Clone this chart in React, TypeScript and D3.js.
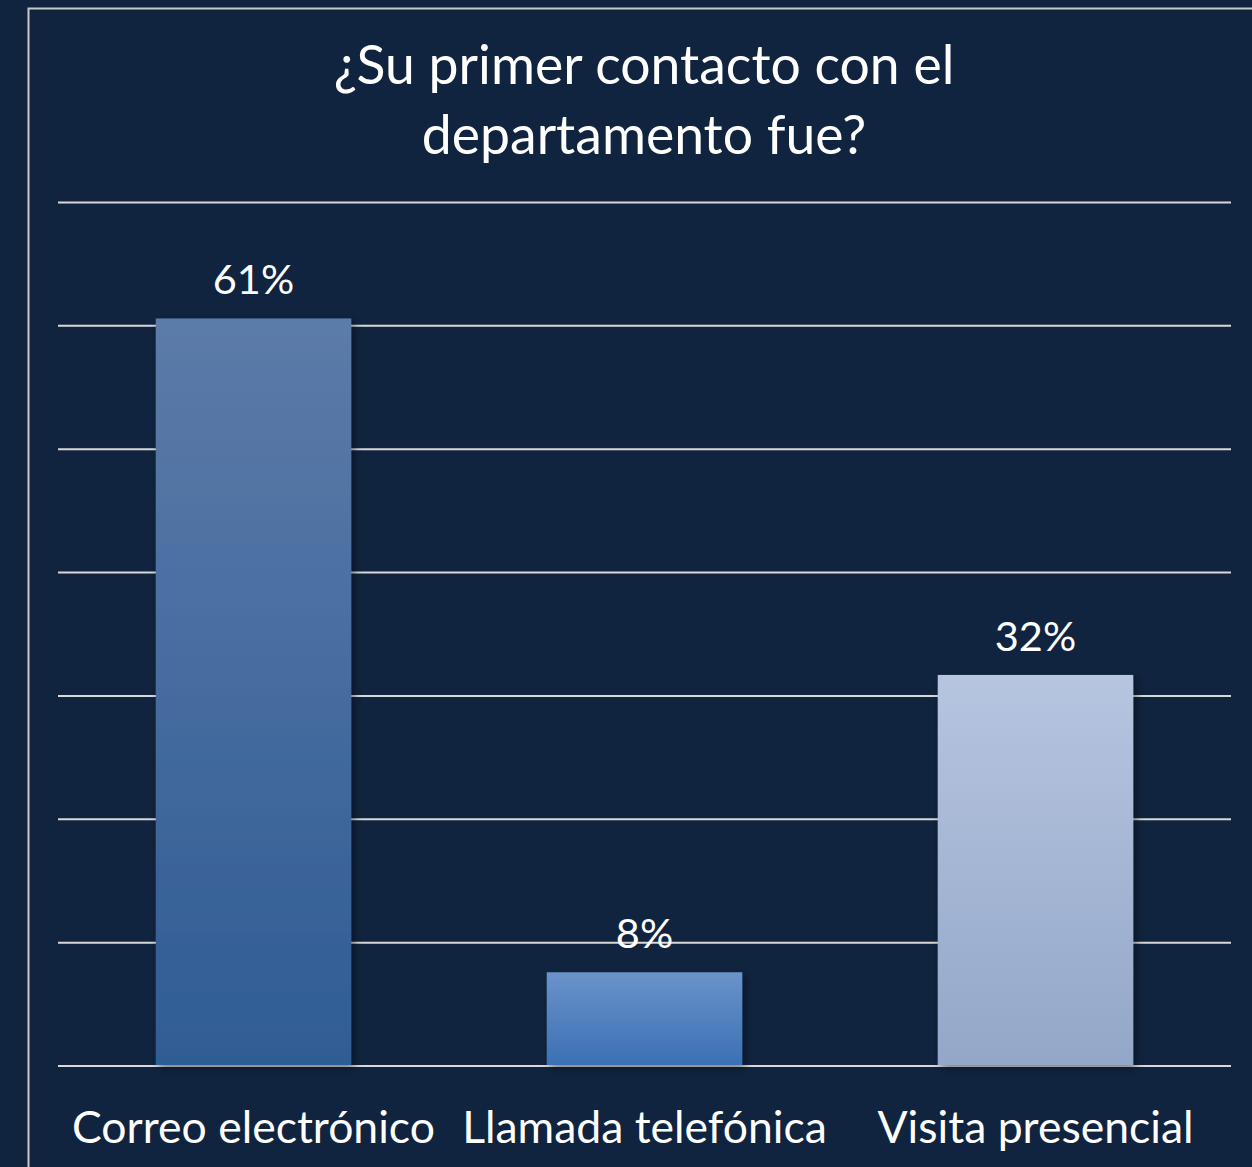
import React from "react";
import * as d3 from "d3";

const categories = ["Correo electrónico", "Llamada telefónica", "Visita presencial"];
const values = [60.6, 7.6, 31.7];
const valueLabels = ["61%", "8%", "32%"];
const yTicks = [0, 10, 20, 30, 40, 50, 60, 70];
const titleLines = ["¿Su primer contacto con el", "departamento fue?"];
const gradients = [
  ["#5c7ba9", "#2f5c94"],
  ["#6a93c9", "#3a70b5"],
  ["#b6c5e0", "#93a7c8"],
];

const W = 1252;
const H = 1167;
const FONT = "Lato, 'Open Sans', sans-serif";

export default function App() {
  const x = d3
    .scaleBand<string>()
    .domain(categories)
    .range([58, 1231])
    .paddingInner(0.5)
    .paddingOuter(0.25);
  const y = d3.scaleLinear().domain([0, 70]).range([1066, 202.5]);

  return (
    <svg
      width={W}
      height={H}
      style={{ position: "absolute", left: 0, top: 0, display: "block" }}
      fontFamily={FONT}
    >
      <defs>
        {gradients.map((g, i) => (
          <linearGradient key={i} id={`g${i}`} x1="0" y1="0" x2="0" y2="1">
            <stop offset="0%" stopColor={g[0]} />
            <stop offset="100%" stopColor={g[1]} />
          </linearGradient>
        ))}
        <filter id="shadow" x="-20%" y="-20%" width="140%" height="140%">
          <feDropShadow dx="3" dy="3" stdDeviation="4" floodColor="#000" floodOpacity="0.45" />
        </filter>
      </defs>
      <rect x={0} y={0} width={W} height={H} fill="#10243f" />
      <rect x={28.5} y={8.5} width={W} height={H} fill="none" stroke="#c9c9c9" strokeWidth={2} />
      {titleLines.map((t, i) => (
        <text
          key={t}
          x={644}
          y={84 + i * 70}
          textAnchor="middle"
          fill="#ffffff"
          fontSize={53.5}
        >
          {t}
        </text>
      ))}
      {yTicks.map((t) => (
        <line
          key={t}
          x1={58}
          x2={1231}
          y1={y(t)}
          y2={y(t)}
          stroke="#d9d9d9"
          strokeWidth={2}
        />
      ))}
      {categories.map((c, i) => (
        <g key={c}>
          <rect
            x={x(c)}
            y={y(values[i])}
            width={x.bandwidth()}
            height={y(0) - y(values[i]) - 1}
            fill={`url(#g${i})`}
            filter="url(#shadow)"
          />
          <text
            x={(x(c) as number) + x.bandwidth() / 2}
            y={y(values[i]) - 24}
            textAnchor="middle"
            fill="#ffffff"
            fontSize={41.5}
          >
            {valueLabels[i]}
          </text>
          <text
            x={(x(c) as number) + x.bandwidth() / 2}
            y={1143}
            textAnchor="middle"
            fill="#ffffff"
            fontSize={44.5}
          >
            {c}
          </text>
        </g>
      ))}
    </svg>
  );
}
